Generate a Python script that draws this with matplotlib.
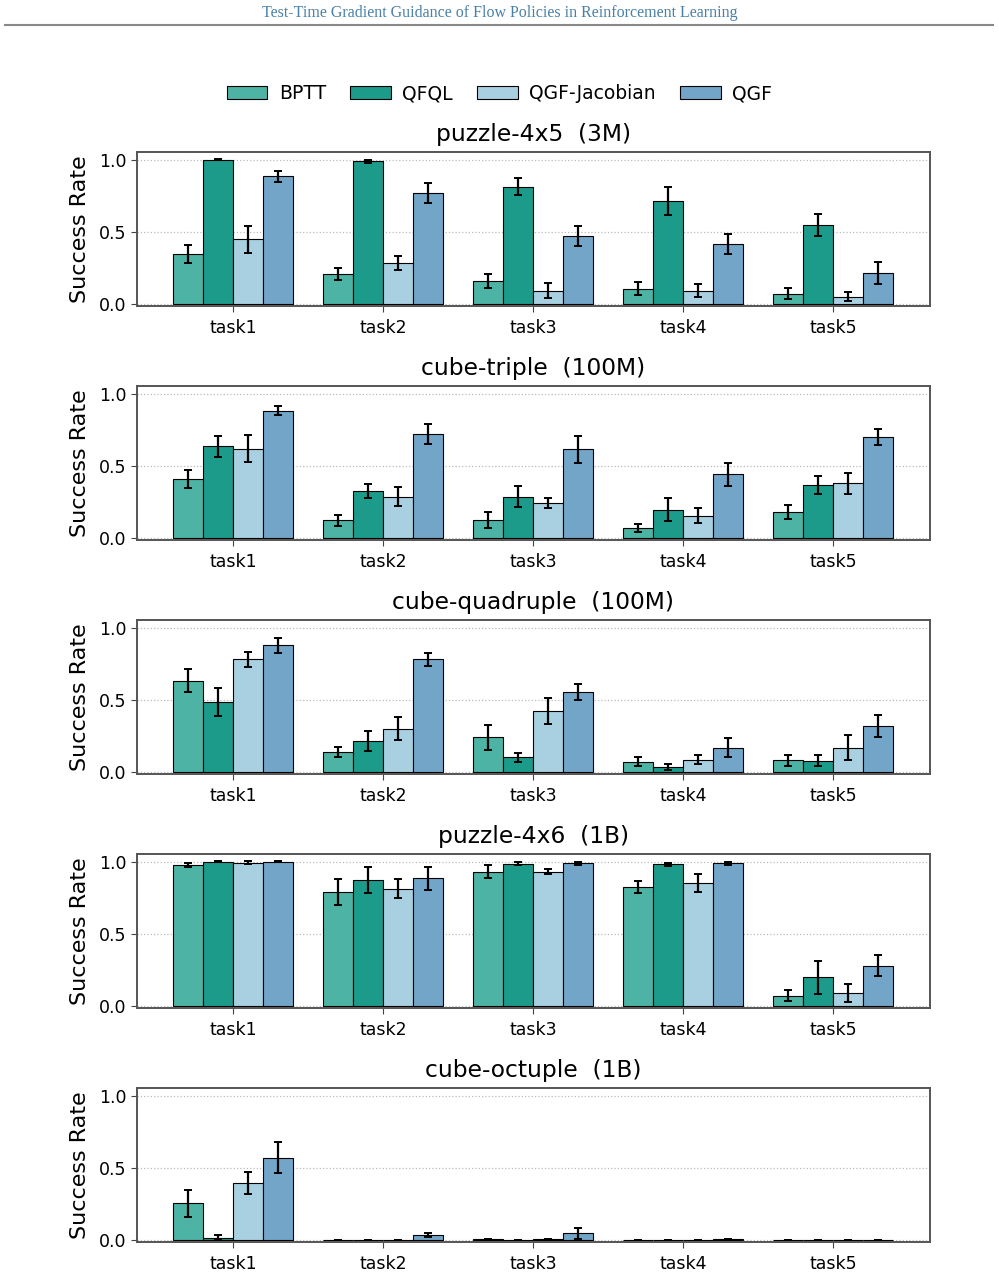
import matplotlib
matplotlib.use("Agg")
import matplotlib.pyplot as plt
import numpy as np

methods = ["BPTT", "QFQL", "QGF-Jacobian", "QGF"]
colors = ["#4db3a4", "#1c9a8a", "#a8d0e0", "#72a5c8"]
tasks = ["task1", "task2", "task3", "task4", "task5"]
titles = ["puzzle-4x5  (3M)", "cube-triple  (100M)", "cube-quadruple  (100M)",
          "puzzle-4x6  (1B)", "cube-octuple  (1B)"]

# means[panel][method][task]
puzzle4x5_mean = [[0.347, 0.209, 0.161, 0.106, 0.069],
                  [1.000, 0.989, 0.814, 0.715, 0.549],
                  [0.448, 0.283, 0.092, 0.092, 0.050],
                  [0.885, 0.768, 0.474, 0.418, 0.216]]
puzzle4x5_err = [[0.065, 0.041, 0.048, 0.046, 0.038],
                 [0.003, 0.010, 0.057, 0.095, 0.078],
                 [0.092, 0.050, 0.052, 0.047, 0.033],
                 [0.036, 0.069, 0.070, 0.069, 0.077]]

cubetriple_mean = [[0.407, 0.122, 0.122, 0.067, 0.177],
                   [0.637, 0.326, 0.287, 0.195, 0.368],
                   [0.618, 0.287, 0.244, 0.154, 0.379],
                   [0.883, 0.722, 0.614, 0.441, 0.703]]
cubetriple_err = [[0.062, 0.039, 0.055, 0.026, 0.048],
                  [0.074, 0.046, 0.072, 0.080, 0.064],
                  [0.094, 0.068, 0.034, 0.051, 0.074],
                  [0.032, 0.069, 0.097, 0.080, 0.055]]

cubequad_mean = [[0.632, 0.138, 0.239, 0.071, 0.080],
                 [0.485, 0.216, 0.101, 0.032, 0.078],
                 [0.782, 0.301, 0.423, 0.085, 0.168],
                 [0.880, 0.782, 0.556, 0.168, 0.320]]
cubequad_err = [[0.080, 0.038, 0.088, 0.032, 0.039],
                [0.100, 0.070, 0.032, 0.021, 0.040],
                [0.053, 0.080, 0.090, 0.032, 0.086],
                [0.051, 0.044, 0.057, 0.067, 0.077]]

puzzle4x6_mean = [[0.979, 0.789, 0.933, 0.823, 0.071],
                  [1.000, 0.876, 0.986, 0.984, 0.200],
                  [0.995, 0.814, 0.933, 0.851, 0.092],
                  [1.000, 0.885, 0.989, 0.989, 0.280]]
puzzle4x6_err = [[0.016, 0.090, 0.043, 0.041, 0.038],
                 [0.003, 0.091, 0.010, 0.010, 0.115],
                 [0.008, 0.068, 0.015, 0.062, 0.063],
                 [0.003, 0.083, 0.012, 0.012, 0.071]]

cubeoct_mean = [[0.253, 0.000, 0.003, 0.000, 0.000],
                [0.016, 0.000, 0.000, 0.000, 0.000],
                [0.395, 0.000, 0.003, 0.000, 0.000],
                [0.572, 0.034, 0.046, 0.003, 0.000]]
cubeoct_err = [[0.094, 0.000, 0.005, 0.000, 0.000],
               [0.016, 0.000, 0.000, 0.000, 0.000],
               [0.075, 0.000, 0.005, 0.000, 0.000],
               [0.109, 0.016, 0.037, 0.004, 0.000]]

all_means = [puzzle4x5_mean, cubetriple_mean, cubequad_mean, puzzle4x6_mean, cubeoct_mean]
all_errs = [puzzle4x5_err, cubetriple_err, cubequad_err, puzzle4x6_err, cubeoct_err]

W, H = 999, 1276
fig = plt.figure(figsize=(W / 100, H / 100), dpi=100)

# header
fig.text(0.5, 1 - 13 / H, "Test-Time Gradient Guidance of Flow Policies in Reinforcement Learning",
         ha="center", va="center", fontsize=11.5, color="#4a80a8", family="Liberation Serif")
fig.add_artist(plt.Line2D([5 / W, 993 / W], [1 - 25 / H, 1 - 25 / H], color="#888888", lw=1.5))

left = 137 / W
width = (930 - 137) / W
bar_w = 0.2
x = np.arange(len(tasks))
handles = []
for p in range(5):
    top_px = 152 + 234 * p
    bot_px = 306 + 234 * p
    ax = fig.add_axes([left, 1 - bot_px / H, width, (bot_px - top_px) / H])
    for m in range(4):
        offs = (m - 1.5) * bar_w
        b = ax.bar(x + offs, all_means[p][m], bar_w, color=colors[m],
                   edgecolor="black", linewidth=0.8, label=methods[m], zorder=2)
        ax.errorbar(x + offs, all_means[p][m], yerr=all_errs[p][m], fmt="none",
                    ecolor="black", elinewidth=1.6, capsize=3, capthick=1.4, zorder=3)
        if p == 0:
            handles.append(b)
    ax.set_xlim(-0.643, 4.645)
    ax.set_ylim(-0.015, 1.055)
    ax.set_yticks([0.0, 0.5, 1.0])
    ax.set_yticklabels(["0.0", "0.5", "1.0"], fontsize=12.5)
    ax.set_xticks(x)
    ax.set_xticklabels(tasks, fontsize=12.5)
    ax.set_ylabel("Success Rate", fontsize=16, labelpad=6)
    ax.set_title(titles[p], fontsize=16.8, pad=8)
    ax.yaxis.grid(True, linestyle=":", color="#bbbbbb", linewidth=0.9, zorder=0)
    ax.set_axisbelow(True)
    for s in ax.spines.values():
        s.set_color("#555555")
        s.set_linewidth(1.4)
    ax.tick_params(axis="both", length=4.3, color="#444444")
    ax.tick_params(axis="x", pad=5)

fig.legend(handles, methods, loc="center", bbox_to_anchor=(0.5, 1 - 93.5 / H), ncol=4,
           frameon=False, fontsize=13.5, handlelength=2.15, handleheight=0.75,
           columnspacing=1.3, handletextpad=0.62)

fig.savefig("out.png", dpi=100)
